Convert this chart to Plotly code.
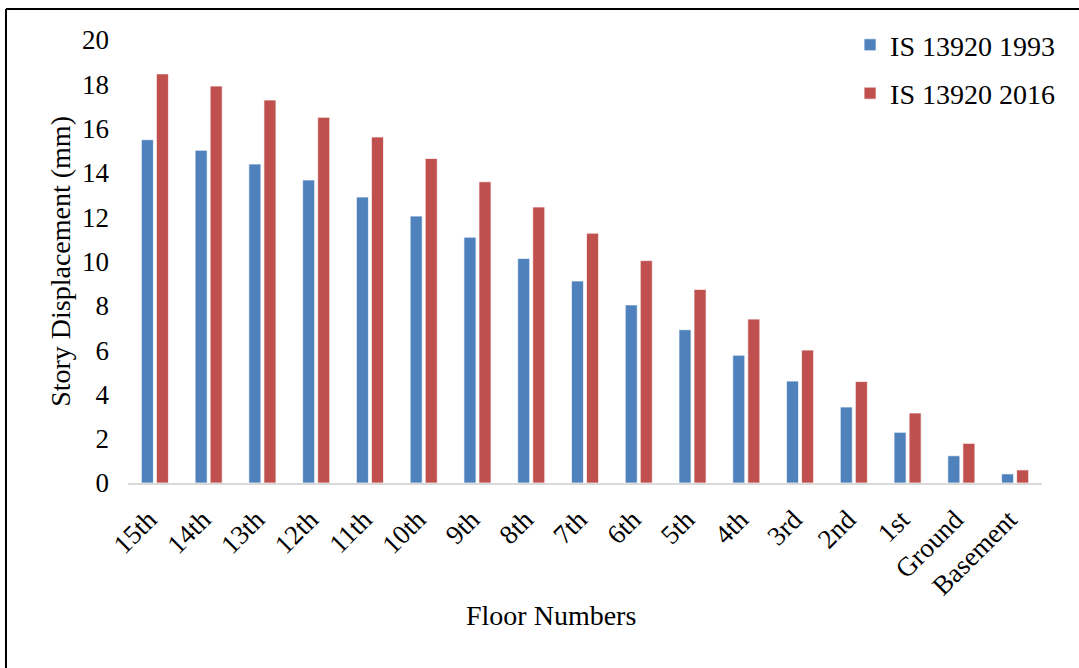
import plotly.graph_objects as go

floors = ["15th", "14th", "13th", "12th", "11th", "10th", "9th", "8th", "7th",
          "6th", "5th", "4th", "3rd", "2nd", "1st", "Ground", "Basement"]
disp_1993 = [15.5, 15.02, 14.4, 13.68, 12.91, 12.05, 11.1, 10.14, 9.12,
             8.04, 6.92, 5.77, 4.6, 3.43, 2.29, 1.23, 0.41]
disp_2016 = [18.47, 17.92, 17.29, 16.51, 15.62, 14.65, 13.6, 12.46, 11.28,
             10.04, 8.74, 7.40, 6.0, 4.58, 3.16, 1.79, 0.59]
y_ticks = [0, 2, 4, 6, 8, 10, 12, 14, 16, 18, 20]

FONT = "Liberation Serif, Times New Roman, serif"
BLUE = "#4F81BD"
RED = "#C0504D"

fig = go.Figure()
fig.add_trace(go.Bar(
    x=floors, y=disp_1993, name="IS 13920 1993", legendgroup="a",
    marker=dict(color=BLUE, line=dict(color="rgba(255,255,255,0.7)", width=1)),
))
fig.add_trace(go.Bar(
    x=floors, y=disp_2016, name="IS 13920 2016", legendgroup="b",
    marker=dict(color=RED, line=dict(color="rgba(255,255,255,0.7)", width=1)),
))

fig.update_layout(
    width=1079, height=668,
    margin=dict(l=128, r=37, t=40, b=185),
    paper_bgcolor="white", plot_bgcolor="white",
    font=dict(family=FONT, size=27, color="black"),
    barmode="group", bargap=0.44, bargroupgap=0.2,
    showlegend=True,
    legend=dict(
        x=0.79, y=1.045, xanchor="left", yanchor="top",
        font=dict(family=FONT, size=28, color="black"),
        bgcolor="rgba(0,0,0,0)", tracegroupgap=9,
    ),
    xaxis=dict(
        type="category", tickangle=-45, showgrid=False, zeroline=False,
        showline=True, linecolor="#D9D9D9", linewidth=2,
        ticks="", ticklabelstandoff=8, ticklabelshift=-6,
        tickfont=dict(family=FONT, size=27, color="black"),
    ),
    yaxis=dict(
        range=[0, 20], tickvals=y_ticks, showgrid=False, zeroline=False,
        showline=False, ticks="", ticklabelstandoff=18,
        tickfont=dict(family=FONT, size=27, color="black"),
    ),
    annotations=[
        dict(text="Floor Numbers", xref="paper", yref="paper",
             x=0.463, y=-0.300, xanchor="center", yanchor="middle",
             showarrow=False, font=dict(family=FONT, size=28, color="black")),
        dict(text="Story Displacement (mm)", xref="paper", yref="paper",
             x=-0.074, y=0.5, xanchor="center", yanchor="middle", textangle=-90,
             showarrow=False, font=dict(family=FONT, size=28, color="black")),
    ],
    shapes=[
        # chart-area frame (left and top edges)
        dict(type="line", xref="paper", yref="paper",
             x0=-0.1335, x1=-0.1335, y0=-0.6, y1=1.070,
             line=dict(color="black", width=2)),
        dict(type="line", xref="paper", yref="paper",
             x0=-0.1335, x1=1.1, y0=1.070, y1=1.070,
             line=dict(color="black", width=2)),
    ],
)

fig.write_html("out.html")
